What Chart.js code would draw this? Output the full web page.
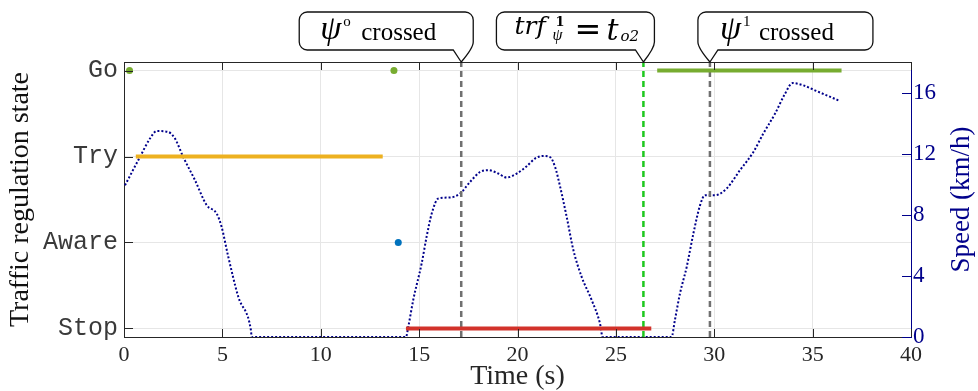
<!DOCTYPE html>
<html>
<head>
<meta charset="utf-8">
<script src="https://cdn.jsdelivr.net/npm/chart.js@4.4.0/dist/chart.umd.min.js"></script>
<style>
  body { margin: 0; background: #fff; }
  canvas { display: block; }
</style>
</head>
<body>
<canvas id="stateChart" width="978" height="391"></canvas>
<script>
// states on the left axis (index = value)
var stateLabels = ['Stop', 'Aware', 'Try', 'Go'];

// speed trace (time in s, speed in km/h)
var speedTime = [0.05, 0.81, 1.32, 1.66, 2.25, 2.59, 3.01, 3.61, 4.2, 4.71, 4.96, 5.3, 5.81, 6.45, 6.49,
  14.33, 14.45, 14.7, 15.13, 15.38, 15.64, 15.98, 16.57, 17.08, 17.59, 18.09, 18.52, 19.02, 19.45, 19.96,
  20.47, 20.89, 21.31, 21.65, 21.91, 22.16, 22.5, 22.84, 23.26, 23.77, 24.19, 24.33,
  27.83, 28.0, 28.26, 28.6, 28.94, 29.28, 29.53, 30.04, 30.63, 31.31, 31.99, 32.49, 33.09, 33.6, 33.98,
  34.53, 35.2, 36.31];
var speedValue = [9.93, 11.78, 12.99, 13.48, 13.42, 12.99, 11.78, 10.26, 8.63, 8.08, 7.21, 5.25, 2.63, 0.46, 0,
  0, 0.67, 2.42, 4.82, 6.56, 8.08, 9.07, 9.13, 9.39, 10.15, 10.8, 10.92, 10.7, 10.44, 10.7,
  11.18, 11.68, 11.85, 11.78, 11.13, 9.87, 7.86, 5.69, 3.94, 2.42, 0.9, 0,
  0, 1.11, 2.86, 4.59, 6.78, 8.63, 9.28, 9.28, 9.72, 10.92, 12.11, 13.31, 14.62, 15.93, 16.62,
  16.47, 16.1, 15.49];

// state intervals
var segStart = [0.6, 14.33, 27.1];
var segEnd = [13.15, 26.8, 36.47];
var segState = [2, 0, 3];

// single state samples
var goTimes = [0.28, 13.72];
var awareTimes = [13.94];

// event markers
var eventTimes = [17.14, 26.4, 29.78];

var stateColors = ['#d2322a', '#0072bd', '#edb120', '#77ac30'];
var eventColors = ['#707070', '#1ec81e', '#707070'];
var navy = '#00008b';
var axisGray = '#262626';

var datasets = [];

datasets.push({
  label: 'Speed',
  yAxisID: 'ySpeed',
  data: speedTime.map(function (t, i) { return {x: t, y: speedValue[i]}; }),
  borderColor: navy,
  borderWidth: 2,
  borderDash: [2, 2],
  pointRadius: 0,
  cubicInterpolationMode: 'monotone',
  order: 4
});

eventTimes.forEach(function (t, i) {
  datasets.push({
    label: 'event' + i,
    yAxisID: 'yState',
    data: [{x: t, y: -0.1}, {x: t, y: 3.1}],
    borderColor: eventColors[i],
    borderWidth: 2.5,
    borderDash: [6, 4],
    pointRadius: 0,
    order: 3
  });
});

segStart.forEach(function (s, i) {
  datasets.push({
    label: stateLabels[segState[i]],
    yAxisID: 'yState',
    data: [{x: s, y: segState[i]}, {x: segEnd[i], y: segState[i]}],
    borderColor: stateColors[segState[i]],
    borderWidth: 4,
    pointRadius: 0,
    order: 2
  });
});

datasets.push({
  label: 'Go',
  yAxisID: 'yState',
  data: goTimes.map(function (t) { return {x: t, y: 3}; }),
  showLine: false,
  pointRadius: 3.5,
  pointBackgroundColor: stateColors[3],
  pointBorderWidth: 0,
  order: 1
});
datasets.push({
  label: 'Aware',
  yAxisID: 'yState',
  data: awareTimes.map(function (t) { return {x: t, y: 1}; }),
  showLine: false,
  pointRadius: 3.5,
  pointBackgroundColor: stateColors[1],
  pointBorderWidth: 0,
  order: 1
});

// inward tick marks + top border, MATLAB style
var innerTicks = {
  id: 'innerTicks',
  afterDatasetsDraw: function (chart) {
    var ctx = chart.ctx, a = chart.chartArea, s = chart.scales;
    ctx.save();
    ctx.lineWidth = 1;
    ctx.strokeStyle = axisGray;
    ctx.beginPath();
    ctx.moveTo(a.left, a.top + 0.5);
    ctx.lineTo(a.right, a.top + 0.5);
    s.x.ticks.forEach(function (tk) {
      var px = Math.round(s.x.getPixelForValue(tk.value)) + 0.5;
      ctx.moveTo(px, a.bottom); ctx.lineTo(px, a.bottom - 8);
      ctx.moveTo(px, a.top); ctx.lineTo(px, a.top + 8);
    });
    s.yState.ticks.forEach(function (tk) {
      var py = Math.round(s.yState.getPixelForValue(tk.value)) + 0.5;
      ctx.moveTo(a.left, py); ctx.lineTo(a.left + 9, py);
    });
    ctx.stroke();
    ctx.strokeStyle = navy;
    ctx.beginPath();
    s.ySpeed.ticks.forEach(function (tk) {
      var py = Math.round(s.ySpeed.getPixelForValue(tk.value)) + 0.5;
      ctx.moveTo(a.right, py); ctx.lineTo(a.right - 9, py);
    });
    ctx.stroke();
    ctx.restore();
  }
};

// right axis title reading bottom to top
var speedTitle = {
  id: 'speedTitle',
  afterDraw: function (chart) {
    var ctx = chart.ctx, a = chart.chartArea;
    ctx.save();
    ctx.translate(969, (a.top + a.bottom) / 2);
    ctx.rotate(-Math.PI / 2);
    ctx.font = '27px "Liberation Serif"';
    ctx.fillStyle = navy;
    ctx.textAlign = 'center';
    ctx.textBaseline = 'alphabetic';
    ctx.fillText('Speed (km/h)', 0, 0);
    ctx.restore();
  }
};

function bubble(ctx, L, R, tip, tipY, tailRight) {
  var T = 12, B = 50, r = 8;
  ctx.beginPath();
  ctx.moveTo(L + r, T);
  ctx.lineTo(R - r, T);
  ctx.arcTo(R, T, R, T + r, r);
  if (tailRight) {
    ctx.lineTo(R, B - 8);
    ctx.quadraticCurveTo(R, B - 2, tip, tipY);
    ctx.lineTo(tip - 8, B);
    ctx.lineTo(L + r, B);
    ctx.arcTo(L, B, L, B - r, r);
  } else {
    ctx.lineTo(R, B - r);
    ctx.arcTo(R, B, R - r, B, r);
    ctx.lineTo(tip + 8, B);
    ctx.lineTo(tip, tipY);
    ctx.quadraticCurveTo(L, B - 2, L, B - 8);
  }
  ctx.lineTo(L, T + r);
  ctx.arcTo(L, T, L + r, T, r);
  ctx.closePath();
  ctx.fillStyle = '#fff';
  ctx.fill();
  ctx.lineWidth = 1.3;
  ctx.strokeStyle = '#111';
  ctx.stroke();
}

function txt(ctx, s, x, y, font) {
  ctx.font = font;
  ctx.fillText(s, x, y);
}

var callouts = {
  id: 'callouts',
  afterDraw: function (chart) {
    var ctx = chart.ctx, a = chart.chartArea, sx = chart.scales.x;
    var t0 = sx.getPixelForValue(eventTimes[0]);
    var t1 = sx.getPixelForValue(eventTimes[1]);
    var t2 = sx.getPixelForValue(eventTimes[2]);
    ctx.save();
    ctx.textBaseline = 'alphabetic';
    ctx.textAlign = 'left';

    var L = t0 - 162;
    bubble(ctx, L, t0 + 12, t0, a.top, true);
    ctx.fillStyle = '#000';
    txt(ctx, '\u03c8', L + 21, 39, 'italic 34px "Liberation Serif"');
    txt(ctx, 'o', L + 44, 26, '15px "Liberation Serif"');
    txt(ctx, 'crossed', L + 62, 40, '25px "Liberation Serif"');

    L = t1 - 147;
    bubble(ctx, L, t1 + 11, t1, a.top, true);
    ctx.fillStyle = '#000';
    txt(ctx, 'trf', L + 18, 34, 'italic 25px "DejaVu Serif"');
    txt(ctx, '1', L + 59, 26, 'bold 13px "DejaVu Serif"');
    txt(ctx, '\u03c8', L + 56, 40, 'italic 16px "Liberation Serif"');
    txt(ctx, '=', L + 78, 40, '32px "DejaVu Sans"');
    txt(ctx, 't', L + 110, 40, 'italic 30px "DejaVu Serif"');
    txt(ctx, 'o2', L + 124, 41, 'italic 15px "DejaVu Serif"');

    L = t2 - 12;
    bubble(ctx, L, t2 + 163, t2, a.top, false);
    ctx.fillStyle = '#000';
    txt(ctx, '\u03c8', L + 22, 39, 'italic 34px "Liberation Serif"');
    txt(ctx, '1', L + 45, 26, '15px "Liberation Serif"');
    txt(ctx, 'crossed', L + 61, 40, '25px "Liberation Serif"');
    ctx.restore();
  }
};

new Chart(document.getElementById('stateChart'), {
  type: 'line',
  data: { datasets: datasets },
  plugins: [innerTicks, speedTitle, callouts],
  options: {
    responsive: false,
    animation: false,
    layout: { padding: { top: 62, left: 0, right: 0, bottom: 0 } },
    plugins: { legend: { display: false }, tooltip: { enabled: false } },
    scales: {
      x: {
        type: 'linear',
        position: 'bottom',
        min: 0,
        max: 40,
        ticks: { stepSize: 5, color: axisGray, padding: 5, font: { family: 'Liberation Serif', size: 22 } },
        grid: { color: '#e6e6e6', drawTicks: false },
        border: { color: axisGray },
        title: { display: true, text: 'Time (s)', color: axisGray,
                 font: { family: 'Liberation Serif', size: 28, lineHeight: 1 }, padding: { top: 0, bottom: 0 } },
        afterFit: function (s) { s.height = 54; }
      },
      yState: {
        type: 'linear',
        position: 'left',
        min: -0.1,
        max: 3.1,
        afterBuildTicks: function (s) { s.ticks = stateLabels.map(function (_, i) { return {value: i}; }); },
        ticks: { color: '#3a3a3a', padding: 6, font: { family: 'Liberation Mono', size: 25 },
                 callback: function (v) { return stateLabels[v]; } },
        grid: { color: '#e6e6e6', drawTicks: false },
        border: { color: axisGray },
        title: { display: true, text: 'Traffic regulation state', color: '#111',
                 font: { family: 'Liberation Serif', size: 28, lineHeight: 1 }, padding: { top: 7, bottom: 0 } },
        afterFit: function (s) { s.width = 124; }
      },
      ySpeed: {
        type: 'linear',
        position: 'right',
        min: 0,
        max: 18,
        ticks: { stepSize: 2, color: navy, padding: 2, font: { family: 'Liberation Serif', size: 23 },
                 callback: function (v) { return v % 4 === 0 ? v : ''; } },
        grid: { drawOnChartArea: false, drawTicks: false },
        border: { color: navy },
        afterFit: function (s) { s.width = 67; }
      }
    }
  }
});
</script>
</body>
</html>
